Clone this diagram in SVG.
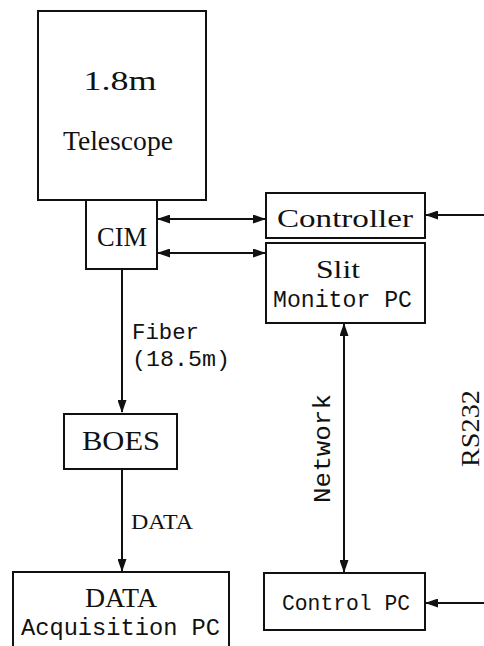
<svg xmlns="http://www.w3.org/2000/svg" width="484" height="646" viewBox="0 0 484 646">
<style>
.box{fill:#fff;stroke:#111;stroke-width:2}
.ln{stroke:#111;stroke-width:2;fill:none}
.s{font-family:"Liberation Serif","DejaVu Serif",serif;fill:#111}
.m{font-family:"Liberation Mono","DejaVu Sans Mono",monospace;fill:#111}
</style>
<defs>
<marker id="ah" markerUnits="userSpaceOnUse" markerWidth="13" markerHeight="9" refX="12" refY="4.5" orient="auto-start-reverse">
<path d="M0,0 L13,4.5 L0,9 z" fill="#111"/>
</marker>
</defs>
<rect width="484" height="646" fill="#fff"/>
<g id="connectors">
<line class="ln" x1="158" y1="219" x2="265" y2="219" marker-start="url(#ah)" marker-end="url(#ah)"/>
<line class="ln" x1="158" y1="253" x2="265" y2="253" marker-start="url(#ah)" marker-end="url(#ah)"/>
<line class="ln" x1="484" y1="215" x2="426" y2="215" marker-end="url(#ah)"/>
<line class="ln" x1="484" y1="603" x2="426" y2="603" marker-end="url(#ah)"/>
<line class="ln" x1="344" y1="324" x2="344" y2="572" marker-start="url(#ah)" marker-end="url(#ah)"/>
<line class="ln" x1="122" y1="270" x2="122" y2="412" marker-end="url(#ah)"/>
<line class="ln" x1="122" y1="470" x2="122" y2="571" marker-end="url(#ah)"/>
<text class="m" x="132" y="339" font-size="22" textLength="67" lengthAdjust="spacingAndGlyphs">Fiber</text>
<text class="m" x="132" y="366" font-size="22" textLength="98" lengthAdjust="spacingAndGlyphs">(18.5m)</text>
<text class="s" x="131" y="529" font-size="22" textLength="62" lengthAdjust="spacingAndGlyphs">DATA</text>
<text class="m" x="330" y="448.5" font-size="23" text-anchor="middle" textLength="109" lengthAdjust="spacingAndGlyphs" transform="rotate(-90 330 448.5)">Network</text>
<text class="s" x="479" y="428.5" font-size="26" text-anchor="middle" textLength="77" lengthAdjust="spacingAndGlyphs" transform="rotate(-90 479 428.5)">RS232</text>
</g>
<g id="telescope">
<rect class="box" x="38" y="11" width="168" height="189"/>
<text class="s" x="120" y="90" font-size="27" text-anchor="middle" textLength="73" lengthAdjust="spacingAndGlyphs">1.8m</text>
<text class="s" x="118" y="150" font-size="27" text-anchor="middle" textLength="110" lengthAdjust="spacingAndGlyphs">Telescope</text>
</g>
<g id="cim">
<rect class="box" x="86" y="200" width="71" height="69"/>
<text class="s" x="122" y="246" font-size="27" text-anchor="middle" textLength="50" lengthAdjust="spacingAndGlyphs">CIM</text>
</g>
<g id="controller">
<rect class="box" x="266" y="193" width="159" height="45"/>
<text class="s" x="345" y="227" font-size="26" text-anchor="middle" textLength="136" lengthAdjust="spacingAndGlyphs">Controller</text>
</g>
<g id="slit-monitor">
<rect class="box" x="266" y="243" width="159" height="80"/>
<text class="s" x="338" y="278" font-size="25" text-anchor="middle" textLength="44" lengthAdjust="spacingAndGlyphs">Slit</text>
<text class="m" x="342.5" y="307" font-size="23" text-anchor="middle" textLength="139" lengthAdjust="spacingAndGlyphs">Monitor PC</text>
</g>
<g id="boes">
<rect class="box" x="64" y="414" width="113" height="55"/>
<text class="s" x="121" y="450" font-size="27" text-anchor="middle" textLength="78" lengthAdjust="spacingAndGlyphs">BOES</text>
</g>
<g id="data-acquisition">
<rect class="box" x="13" y="572" width="216" height="90"/>
<text class="s" x="121" y="607" font-size="28" text-anchor="middle" textLength="72" lengthAdjust="spacingAndGlyphs">DATA</text>
<text class="m" x="120.5" y="635" font-size="24" text-anchor="middle" textLength="199" lengthAdjust="spacingAndGlyphs">Acquisition PC</text>
</g>
<g id="control-pc">
<rect class="box" x="264" y="573" width="161" height="57"/>
<text class="m" x="346" y="610" font-size="22" text-anchor="middle" textLength="128" lengthAdjust="spacingAndGlyphs">Control PC</text>
</g>
</svg>
